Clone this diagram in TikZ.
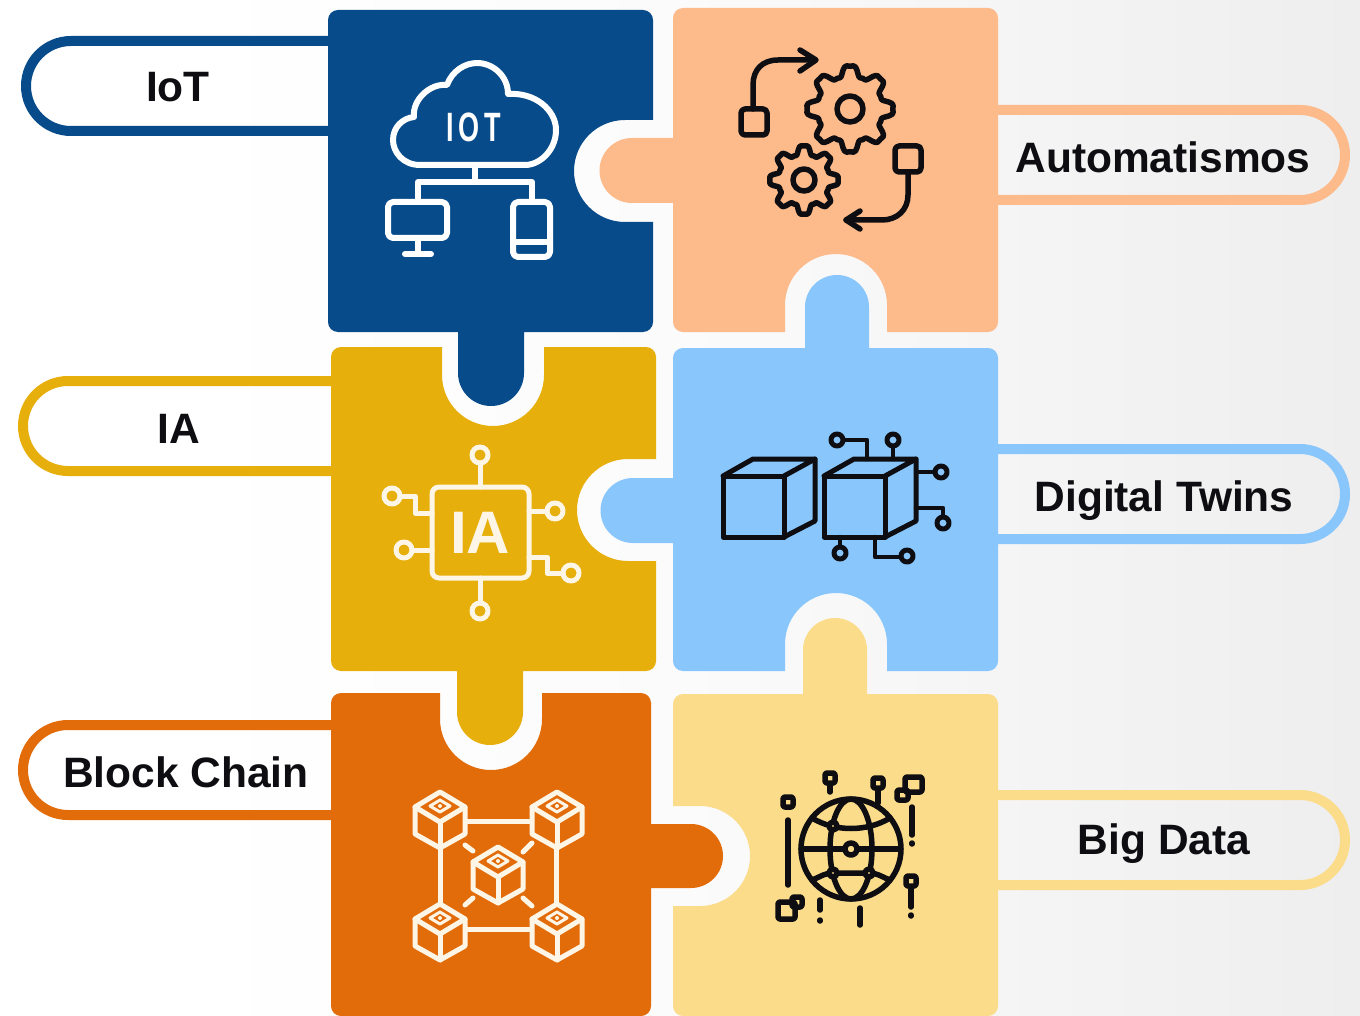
\documentclass[tikz,border=0pt]{standalone}
\usepackage{fontspec}
\setmainfont{Liberation Sans}
\definecolor{iotblue}{HTML}{074B8A}
\definecolor{autopeach}{HTML}{FDBB8B}
\definecolor{iagold}{HTML}{E7AF0B}
\definecolor{twinsky}{HTML}{88C6FC}
\definecolor{chainorange}{HTML}{E36C0A}
\definecolor{datacream}{HTML}{FADC8A}
\definecolor{bgmid}{HTML}{FBFBFC}
\definecolor{bggray}{HTML}{EEEEEE}
\definecolor{inkblack}{HTML}{0E0E12}
\definecolor{iconcream}{HTML}{FDF6E6}
\pgfdeclarehorizontalshading{pagefade}{100bp}{color(0bp)=(white); color(32bp)=(white); color(50bp)=(bgmid); color(75bp)=(bggray); color(100bp)=(bggray)}
\newcommand{\cornerNE}{arc[start angle=270,end angle=360,radius=10]}
\newcommand{\cornerSE}{arc[start angle=0,end angle=90,radius=10]}
\newcommand{\cornerSW}{arc[start angle=90,end angle=180,radius=10]}
\newcommand{\cornerNW}{arc[start angle=180,end angle=270,radius=10]}
\begin{document}
\begin{tikzpicture}
    [
    x=1pt,y=-1pt,
    pill/.style={line width=10pt},
    tag/.style={font=\fontsize{42.5}{48}\selectfont\bfseries,text=inkblack,inner sep=0pt,anchor=base},
    whiteicon/.style={draw=white,line width=6pt,line join=round,line cap=round},
    creamicon/.style={draw=iconcream,line width=5pt,line join=round,line cap=round},
    blackicon/.style={draw=inkblack,line width=5.5pt,line join=round,line cap=round},
    ]
    \useasboundingbox (0,0) rectangle (1360,1016);
    \shade [shading=pagefade] (0,0) rectangle (1360,1016);

    % pills
    \draw [pill,draw=iotblue] (340,41) -- (71,41) arc[start angle=270,end angle=90,radius=45] -- (340,131);
    \draw [pill,draw=iagold] (340,381) -- (68,381) arc[start angle=270,end angle=90,radius=45] -- (340,471);
    \draw [pill,draw=chainorange] (340,725) -- (68,725) arc[start angle=270,end angle=90,radius=45] -- (340,815);
    \draw [pill,draw=autopeach] (990,110) -- (1300,110) arc[start angle=-90,end angle=90,radius=45] -- (990,200);
    \draw [pill,draw=twinsky] (990,449) -- (1300,449) arc[start angle=-90,end angle=90,radius=45] -- (990,539);
    \draw [pill,draw=datacream] (990,795) -- (1300,795) arc[start angle=-90,end angle=90,radius=45] -- (990,885);
    \node [tag] (iot) at (178,102) {IoT};
    \node [tag] (ia) at (179,443) {IA};
    \node [tag] (chain) at (186,787) {Block Chain};
    \node [tag] (auto) at (1163,173) {Automatismos};
    \node [tag] (twins) at (1164,511) {Digital Twins};
    \node [tag] (data) at (1164,854) {Big Data};

    % puzzle pieces
    \fill [iotblue] (338,10) -- (643,10) \cornerNE -- (653,120) -- (625,120)
      arc[start angle=270,end angle=90,radius=51] -- (653,222) -- (653,322) \cornerSE -- (524,332) -- (524,373)
      arc[start angle=0,end angle=180,radius=33] -- (458,332) -- (338,332) \cornerSW -- (328,20) \cornerNW -- cycle;
    \fill [autopeach] (683,8) -- (988,8) \cornerNE -- (998,322) \cornerSE -- (887,332) -- (887,305)
      arc[start angle=360,end angle=180,radius=51] -- (785,332) -- (683,332) \cornerSW -- (673,203) -- (632,203)
      arc[start angle=90,end angle=270,radius=32.5] -- (673,138) -- (673,18) \cornerNW -- cycle;
    \fill [iagold] (341,347) -- (442,347) -- (442,375)
      arc[start angle=180,end angle=0,radius=51] -- (544,347) -- (646,347) \cornerNE -- (656,459) -- (628,459)
      arc[start angle=270,end angle=90,radius=51] -- (656,561) -- (656,661) \cornerSE -- (523,671) -- (523,712)
      arc[start angle=0,end angle=180,radius=33] -- (457,671) -- (341,671) \cornerSW -- (331,357) \cornerNW -- cycle;
    \fill [twinsky] (683,348) -- (805,348) -- (805,307)
      arc[start angle=180,end angle=360,radius=32] -- (869,348) -- (988,348) \cornerNE -- (998,661) \cornerSE -- (887,671) -- (887,644)
      arc[start angle=360,end angle=180,radius=51] -- (785,671) -- (683,671) \cornerSW -- (673,543) -- (633,543)
      arc[start angle=90,end angle=270,radius=32.5] -- (673,478) -- (673,358) \cornerNW -- cycle;
    \fill [chainorange] (341,693) -- (440,693) -- (440,719)
      arc[start angle=180,end angle=0,radius=51] -- (542,693) -- (641,693) \cornerNE -- (651,824) -- (691,824)
      arc[start angle=-90,end angle=90,radius=32] -- (651,888) -- (651,1006) \cornerSE -- (341,1016) \cornerSW -- (331,703) \cornerNW -- cycle;
    \fill [datacream] (683,694) -- (803,694) -- (803,650)
      arc[start angle=180,end angle=360,radius=32] -- (867,694) -- (988,694) \cornerNE -- (998,1006) \cornerSE -- (683,1016) \cornerSW -- (673,906) -- (700,906)
      arc[start angle=90,end angle=-90,radius=50] -- (673,806) -- (673,704) \cornerNW -- cycle;

    % iot icon
    \draw [whiteicon] (420,165) .. controls (403,165) and (393,152) .. (393,140) .. controls (393,127) and (403,118) .. (414,117)
      .. controls (412,100) and (430,83) .. (447,85) .. controls (452,71) and (465,63) .. (477,63)
      .. controls (493,63) and (508,76) .. (508,94) .. controls (535,92) and (556,110) .. (556,130)
      .. controls (556,150) and (540,165) .. (525,165) -- cycle;
    \node [text=white,inner sep=0pt,font=\fontsize{41}{48}\selectfont\bfseries] (cloudtext) at (474,127) {\scalebox{0.66}[1]{I\hspace{7pt}O\hspace{7pt}T}};
    \draw [whiteicon] (475,165) -- (475,182);
    \draw [whiteicon] (418,202) -- (418,182) -- (532,182) -- (532,202);
    \draw [whiteicon,rounded corners=5pt] (388,202) rectangle (447,238);
    \draw [whiteicon] (418,238) -- (418,254);
    \draw [whiteicon] (405,254) -- (431,254);
    \draw [whiteicon,rounded corners=5pt] (513,202) rectangle (550,257);
    \draw [whiteicon] (513,242) -- (550,242);

    % gear icon
    \foreach \cx/\cy/\rm/\ra/\rc in {850/109/38/6/13,804/180/30/5/11} {
      \draw [blackicon] plot[domain=0:360,samples=145,smooth]
        ({\cx+(\rm+\ra*(cos(8*\x)-0.2*cos(24*\x)))*cos(\x-90)},{\cy+(\rm+\ra*(cos(8*\x)-0.2*cos(24*\x)))*sin(\x-90)});
      \draw [blackicon] (\cx,\cy) circle[radius=\rc];
    }
    \draw [blackicon,rounded corners=4pt] (741,109) rectangle (767,135);
    \draw [blackicon,rounded corners=4pt] (895,146) rectangle (921,172);
    \draw [blackicon] (753,109) -- (753,85) .. controls (753,70) and (762,60) .. (778,60) -- (815,60);
    \draw [blackicon] (800,50) -- (816,60) -- (800,71);
    \draw [blackicon] (908,172) -- (908,195) .. controls (908,210) and (897,220) .. (882,220) -- (846,220);
    \draw [blackicon] (860,211) -- (846,220) -- (860,229);

    % ia icon
    \draw [creamicon,rounded corners=7pt] (432,487) rectangle (529,578);
    \node [text=iconcream,inner sep=0pt,font=\fontsize{60}{64}\selectfont\bfseries] (chiptext) at (480,533) {IA};
    \foreach \px/\py in {480/455,480/611,392/496,404/550,555/511,571/573}
      \draw [creamicon] (\px,\py) circle[radius=8];
    \draw [creamicon] (480,463) -- (480,487);
    \draw [creamicon] (480,578) -- (480,603);
    \draw [creamicon] (400,496) -- (415,496) -- (415,513) -- (432,513);
    \draw [creamicon] (412,550) -- (432,550);
    \draw [creamicon] (529,511) -- (547,511);
    \draw [creamicon] (529,557) -- (547,557) -- (547,573) -- (563,573);

    % twins icon
    \foreach \ox in {723,824} {
      \draw [blackicon,line width=5pt] (\ox,476) rectangle (\ox+61,537);
      \draw [blackicon,line width=5pt] (\ox,476) -- (\ox+30,459) -- (\ox+92,459) -- (\ox+61,476);
      \draw [blackicon,line width=5pt] (\ox+92,459) -- (\ox+92,521) -- (\ox+61,537);
    }
    \foreach \px/\py in {837/440,893/440,941/472,943/523,840/553,907/556}
      \draw [blackicon,line width=5pt] (\px,\py) circle[radius=6];
    \draw [blackicon,line width=4.5pt] (843,440) -- (867,440) -- (867,459);
    \draw [blackicon,line width=4.5pt] (893,446) -- (893,459);
    \draw [blackicon,line width=4.5pt] (916,472) -- (935,472);
    \draw [blackicon,line width=4.5pt] (916,508) -- (943,508) -- (943,517);
    \draw [blackicon,line width=4.5pt] (840,537) -- (840,547);
    \draw [blackicon,line width=4.5pt] (875,537) -- (875,557) -- (901,557);

    % chain icon
    \foreach \bx/\by in {440/820,557/820,498/875,440/932,557/932} {
      \draw [creamicon] (\bx,\by-28) -- (\bx+25,\by-13) -- (\bx+25,\by+14) -- (\bx,\by+28) -- (\bx-25,\by+14) -- (\bx-25,\by-13) -- cycle;
      \draw [creamicon] (\bx-25,\by-13) -- (\bx,\by+2) -- (\bx+25,\by-13);
      \draw [creamicon] (\bx,\by+2) -- (\bx,\by+28);
      \draw [creamicon,line width=3pt] (\bx-10,\by-14) -- (\bx,\by-20) -- (\bx+10,\by-14) -- (\bx,\by-8) -- cycle;
      \fill [iconcream] (\bx,\by-14) circle[radius=2];
    }
    \draw [creamicon] (467,821) -- (531,821);
    \draw [creamicon] (467,929) -- (531,929);
    \draw [creamicon] (440,848) -- (440,904);
    \draw [creamicon] (556,848) -- (556,904);
    \draw [creamicon] (465,845) -- (473,851);
    \draw [creamicon] (532,843) -- (523,852);
    \draw [creamicon] (465,905) -- (473,898);
    \draw [creamicon] (532,906) -- (523,898);

    % data icon
    \draw [blackicon] (851,849) circle[radius=50];
    \draw [blackicon] (851,849) ellipse[x radius=21,y radius=50];
    \draw [blackicon] (801,849) -- (900,849);
    \draw [blackicon] (812,818) .. controls (835,832) and (867,832) .. (890,818);
    \draw [blackicon] (812,880) .. controls (822,876) and (825,873) .. (833,873) -- (869,873) .. controls (877,873) and (880,876) .. (890,880);
    \foreach \px/\py/\pr in {833/826/4,851/849/6,833/873/4,869/873/4}
      \draw [blackicon,fill=datacream] (\px,\py) circle[radius=\pr];
    \foreach \px/\py in {788/802,830/778,878/783,911/881}
      \draw [blackicon,rounded corners=2pt] (\px-5,\py-5) rectangle (\px+5,\py+5);
    \draw [blackicon] (788,820) -- (788,885);
    \draw [blackicon] (830,784) -- (830,792);
    \draw [blackicon] (878,789) -- (878,803);
    \draw [blackicon] (911,887) -- (911,907);
    \draw [blackicon] (911,915) -- (911,916);
    \draw [blackicon] (912,807) -- (912,835);
    \draw [blackicon] (912,843) -- (912,844);
    \draw [blackicon] (820,900) -- (820,910);
    \draw [blackicon] (820,920) -- (820,921);
    \draw [blackicon] (860,908) -- (860,925);
    \draw [blackicon,rounded corners=2pt] (905,777) rectangle (922,792);
    \draw [blackicon,rounded corners=2pt] (897,790) rectangle (908,800);
    \draw [blackicon,rounded corners=2pt] (778,902) rectangle (795,919);
    \draw [blackicon,rounded corners=2pt] (792,897) rectangle (802,907);
  \end{tikzpicture}
\end{document}
